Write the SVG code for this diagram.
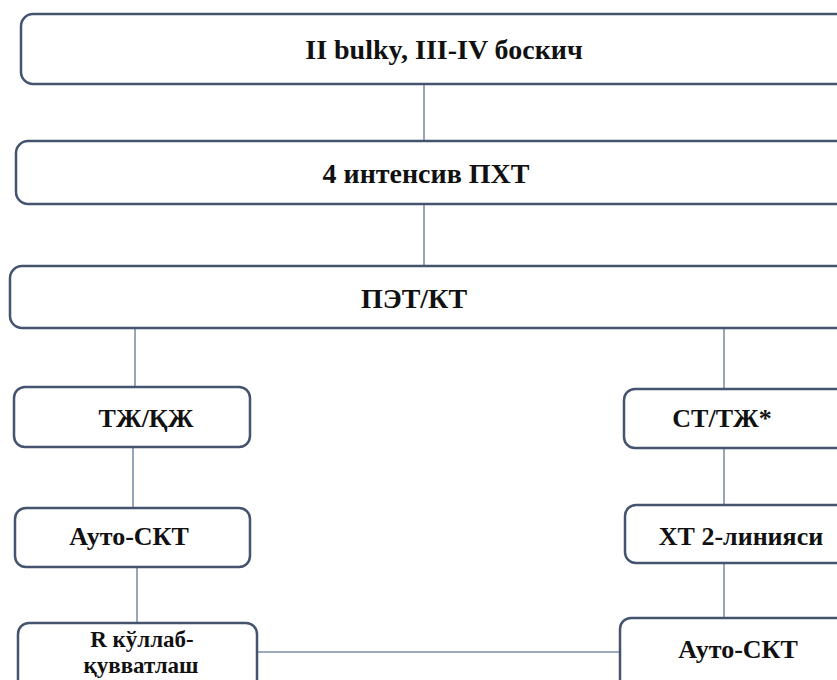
<svg xmlns="http://www.w3.org/2000/svg" width="837" height="680" viewBox="0 0 837 680">
<style>
.box{fill:#ffffff;stroke:#44546e;stroke-width:2.5}
.t{font-family:"Liberation Serif","Times New Roman",serif;font-weight:bold;fill:#111;text-anchor:middle}
.big{font-size:28px}
.sm{font-size:26px}
.xs{font-size:23px}
.c{stroke:#7d90a8;stroke-width:1.6;fill:none}
</style>
<rect width="837" height="680" fill="#ffffff"/>
<g id="connectors">
<line class="c" x1="424" y1="85" x2="424" y2="141"/>
<line class="c" x1="424" y1="205" x2="424" y2="266"/>
<line class="c" x1="135" y1="329" x2="135" y2="387"/>
<line class="c" x1="133" y1="448" x2="133" y2="508"/>
<line class="c" x1="137" y1="568" x2="137" y2="623"/>
<line class="c" x1="724" y1="329" x2="724" y2="389"/>
<line class="c" x1="724" y1="449" x2="724" y2="505"/>
<line class="c" x1="724" y1="564" x2="724" y2="618"/>
<line class="c" x1="258" y1="652" x2="620" y2="652"/>
</g>
<g id="n1">
<rect class="box" x="21" y="14" width="840" height="70" rx="12"/>
<text class="t big" x="444" y="59">II bulky, III-IV боскич</text>
</g>
<g id="n2">
<rect class="box" x="16" y="141" width="845" height="63" rx="12"/>
<text class="t big" x="426" y="183">4 интенсив ПХТ</text>
</g>
<g id="n3">
<rect class="box" x="10" y="266" width="851" height="62" rx="12"/>
<text class="t big" x="414" y="308">ПЭТ/КТ</text>
</g>
<g id="n4">
<rect class="box" x="14" y="387" width="236" height="60" rx="11"/>
<text class="t sm" x="146" y="427">ТЖ/ҚЖ</text>
</g>
<g id="n5">
<rect class="box" x="15" y="508" width="235" height="59" rx="11"/>
<text class="t sm" x="129" y="545">Ауто-СКТ</text>
</g>
<g id="n6">
<rect class="box" x="18" y="623" width="239" height="70" rx="11"/>
<text class="t xs" x="142" y="647">R кўллаб-</text>
<text class="t xs" x="141" y="673">қувватлаш</text>
</g>
<g id="n7">
<rect class="box" x="624" y="389" width="240" height="59" rx="11"/>
<text class="t sm" x="722" y="427">СТ/ТЖ*</text>
</g>
<g id="n8">
<rect class="box" x="625" y="505" width="240" height="58" rx="11"/>
<text class="t sm" x="741" y="545">ХТ 2-линияси</text>
</g>
<g id="n9">
<rect class="box" x="620" y="618" width="240" height="75" rx="11"/>
<text class="t sm" x="738" y="658">Ауто-СКТ</text>
</g>
</svg>
